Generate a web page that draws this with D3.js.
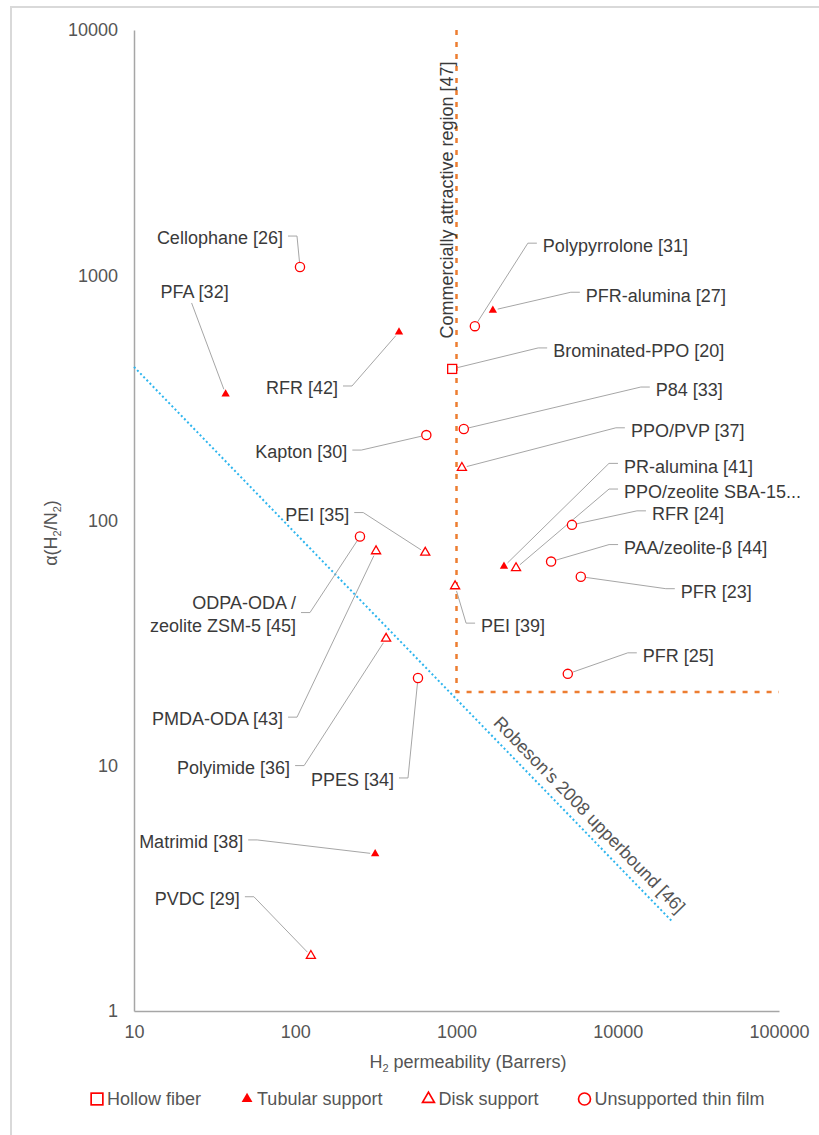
<!DOCTYPE html>
<html>
<head>
<meta charset="utf-8">
<script src="https://cdn.jsdelivr.net/npm/d3@7"></script>
<style>
  html, body { margin: 0; padding: 0; background: #fff; }
  svg { display: block; font-family: Arial, "Liberation Sans", sans-serif; }
</style>
</head>
<body>
<svg id="chart" width="819" height="1135"></svg>
<script>
// ---- Data: H2 permeability (Barrers) vs. H2/N2 selectivity ----
const names = [
  "Cellophane [26]", "PFA [32]", "RFR [42]", "Polypyrrolone [31]", "PFR-alumina [27]",
  "Brominated-PPO [20]", "P84 [33]", "Kapton [30]", "PPO/PVP [37]", "PR-alumina [41]",
  "PPO/zeolite SBA-15...", "RFR [24]", "PAA/zeolite-β [44]", "PFR [23]", "PEI [39]",
  "PFR [25]", "PEI [35]", "ODPA-ODA /\nzeolite ZSM-5 [45]", "PMDA-ODA [43]", "Polyimide [36]",
  "PPES [34]", "Matrimid [38]", "PVDC [29]"
];
const permeability = [
  107, 37, 440, 1300, 1680,
  940, 1110, 650, 1080, 1970,
  2340, 5200, 3860, 5900, 980,
  4900, 640, 252, 317, 366,
  577, 313, 125
];
const selectivity = [
  1080, 328, 587, 620, 720,
  415, 236, 223, 164, 65,
  64, 96, 68, 59, 54,
  23.7, 74, 86, 75, 33,
  22.8, 4.37, 1.68
];
const supportType = [
  "film", "tubular", "tubular", "film", "tubular",
  "hollow", "film", "film", "disk", "tubular",
  "disk", "film", "film", "film", "disk",
  "film", "disk", "film", "disk", "disk",
  "film", "tubular", "disk"
];

const xTicks = [10, 100, 1000, 10000, 100000];
const yTicks = [1, 10, 100, 1000, 10000];

// Robeson's 2008 upper bound, end points (permeability, selectivity)
const robesonBound = [[10, 423], [22000, 2.3]];
// Commercially attractive region boundary
const attractiveRegion = [[1000, 10000], [1000, 20], [100000, 20]];

const legendTypes = ["hollow", "tubular", "disk", "film"];
const legendLabels = ["Hollow fiber", "Tubular support", "Disk support", "Unsupported thin film"];

// Callout placement (pixel offset of each label from its marker)
const labelOffsets = [
  [-17, -29], [-31, -102], [-61, 56], [68, -80], [93, -15],
  [101, -18], [192, -39], [-79, 17], [169, -37], [120, -100],
  [108, -76], [80, -11], [73, -14], [100, 15], [26, 40],
  [75, -18], [-76, -38], [-64, 78], [-93, 168], [-96, 129],
  [-24, 102], [-132, -12], [-71, -57]
];

// ---- Layout ----
const svg = d3.select("#chart");
const red = "#FF0000";
const textColor = "#3a3a3a";
const tickColor = "#555555";
const leaderColor = "#a6a6a6";

// outer frame
svg.append("rect")
  .attr("x", 11).attr("y", 7).attr("width", 900).attr("height", 1200)
  .attr("fill", "none").attr("stroke", "#d9d9d9").attr("stroke-width", 2);

const x = d3.scaleLog().domain([10, 100000]).range([134, 779]);
const y = d3.scaleLog().domain([1, 10000]).range([1011, 30]);

// axes
const xAxis = svg.append("g")
  .attr("transform", `translate(0,${y(1)})`)
  .call(d3.axisBottom(x).tickValues(xTicks).tickFormat(d3.format("d")).tickSize(0).tickPadding(14));
const yAxis = svg.append("g")
  .attr("transform", `translate(${x(10)},0)`)
  .call(d3.axisLeft(y).tickValues(yTicks).tickFormat(d3.format("d")).tickSize(0).tickPadding(16));
[xAxis, yAxis].forEach(g => {
  g.select(".domain").attr("stroke", "#a6a6a6").attr("stroke-width", 1.5);
  g.selectAll("text").attr("fill", tickColor).attr("font-size", 18)
    .attr("font-family", "Arial, 'Liberation Sans', sans-serif");
});

// axis titles
const xTitle = svg.append("text")
  .attr("x", 468).attr("y", 1068).attr("text-anchor", "middle")
  .attr("font-size", 18).attr("fill", tickColor);
xTitle.append("tspan").text("H");
xTitle.append("tspan").text("2").attr("font-size", 11).attr("dy", 4);
xTitle.append("tspan").text(" permeability (Barrers)").attr("dy", -4);

const yTitle = svg.append("text")
  .attr("transform", "translate(57,533) rotate(-90)")
  .attr("text-anchor", "middle").attr("font-size", 18).attr("fill", tickColor);
yTitle.append("tspan").text("α(H");
yTitle.append("tspan").text("2").attr("font-size", 11).attr("dy", 4);
yTitle.append("tspan").text("/N").attr("dy", -4);
yTitle.append("tspan").text("2").attr("font-size", 11).attr("dy", 4);
yTitle.append("tspan").text(")").attr("dy", -4);

// commercially attractive region
const line = d3.line().x(d => x(d[0])).y(d => y(d[1]));
svg.append("path")
  .attr("d", line(attractiveRegion))
  .attr("fill", "none").attr("stroke", "#ED7D31").attr("stroke-width", 2.5)
  .attr("stroke-dasharray", "5,7");
svg.append("text")
  .attr("transform", `translate(${x(1000) - 10},200) rotate(-90)`)
  .attr("text-anchor", "middle").attr("dy", "0.35em")
  .attr("font-size", 18).attr("fill", textColor)
  .text("Commercially attractive region [47]");

// Robeson upper bound
svg.append("path")
  .attr("d", line(robesonBound))
  .attr("fill", "none").attr("stroke", "#2EB5EE").attr("stroke-width", 2)
  .attr("stroke-dasharray", "2,2.5");
{
  const [p0, p1] = robesonBound.map(d => [x(d[0]), y(d[1])]);
  const ang = Math.atan2(p1[1] - p0[1], p1[0] - p0[0]);
  const t = 0.825;
  const mx = p0[0] + (p1[0] - p0[0]) * t, my = p0[1] + (p1[1] - p0[1]) * t;
  const off = 15;
  const cx = mx + Math.sin(ang) * off, cy = my - Math.cos(ang) * off;
  svg.append("text")
    .attr("transform", `translate(${cx},${cy}) rotate(${ang * 180 / Math.PI})`)
    .attr("text-anchor", "middle").attr("dy", "0.35em")
    .attr("font-size", 18).attr("fill", tickColor)
    .text("Robeson's 2008 upperbound [46]");
}

// marker shapes
function drawMarker(g, type, cx, cy, scale = 1) {
  if (type === "film") {
    g.append("circle").attr("cx", cx).attr("cy", cy).attr("r", 4.6 * scale)
      .attr("fill", "#fff").attr("stroke", red).attr("stroke-width", 1.3 * scale);
  } else if (type === "hollow") {
    const s = 9 * scale;
    g.append("rect").attr("x", cx - s / 2).attr("y", cy - s / 2).attr("width", s).attr("height", s)
      .attr("fill", "#fff").attr("stroke", red).attr("stroke-width", 1.3 * scale);
  } else if (type === "disk") {
    g.append("path").attr("transform", `translate(${cx},${cy})`)
      .attr("d", d3.symbol(d3.symbolTriangle, 36 * scale * scale)())
      .attr("fill", "#fff").attr("stroke", red).attr("stroke-width", 1.3 * scale);
  } else {
    g.append("path").attr("transform", `translate(${cx},${cy})`)
      .attr("d", d3.symbol(d3.symbolTriangle, 30 * scale * scale)())
      .attr("fill", red).attr("stroke", "none");
  }
}

// callouts
const leaders = svg.append("g");
const labels = svg.append("g");
const marks = svg.append("g");

names.forEach((name, i) => {
  const px = x(permeability[i]), py = y(selectivity[i]);
  const [dx, dy] = labelOffsets[i];
  const tx = px + dx, ty = py + dy;
  const lines = name.split("\n");
  const below = i === 1;
  const anchor = below ? "middle" : (dx < 0 ? "end" : "start");

  const txt = labels.append("text")
    .attr("x", tx).attr("y", ty)
    .attr("text-anchor", anchor).attr("font-size", 18).attr("fill", textColor);
  lines.forEach((ln, k) => {
    txt.append("tspan").attr("x", tx)
      .attr("y", ty + (k - (lines.length - 1) / 2) * 23)
      .attr("dy", "0.35em").text(ln);
  });

  let pts;
  if (below) {
    pts = [[tx - 3, ty + 11]];
  } else if (anchor === "end") {
    pts = [[tx + 5, ty - 2], [tx + 14, ty - 2]];
  } else {
    pts = [[tx - 6, ty - 3], [tx - 15, ty - 3]];
  }
  const last = pts[pts.length - 1];
  const ddx = px - last[0], ddy = py - last[1];
  const len = Math.hypot(ddx, ddy);
  pts.push([px - ddx / len * 5, py - ddy / len * 5]);
  leaders.append("path")
    .attr("d", d3.line()(pts))
    .attr("fill", "none").attr("stroke", leaderColor).attr("stroke-width", 1);

  drawMarker(marks, supportType[i], px, py);
});

// legend
const legend = svg.append("g");
let lx = 91;
const ly = 1099;
legendTypes.forEach((type, i) => {
  drawMarker(legend, type, lx + 6, ly, 1.3);
  const t = legend.append("text")
    .attr("x", lx + 16).attr("y", ly).attr("dy", "0.35em")
    .attr("font-size", 18).attr("fill", tickColor).text(legendLabels[i]);
  lx += 16 + t.node().getComputedTextLength() + 40;
});
</script>
</body>
</html>
